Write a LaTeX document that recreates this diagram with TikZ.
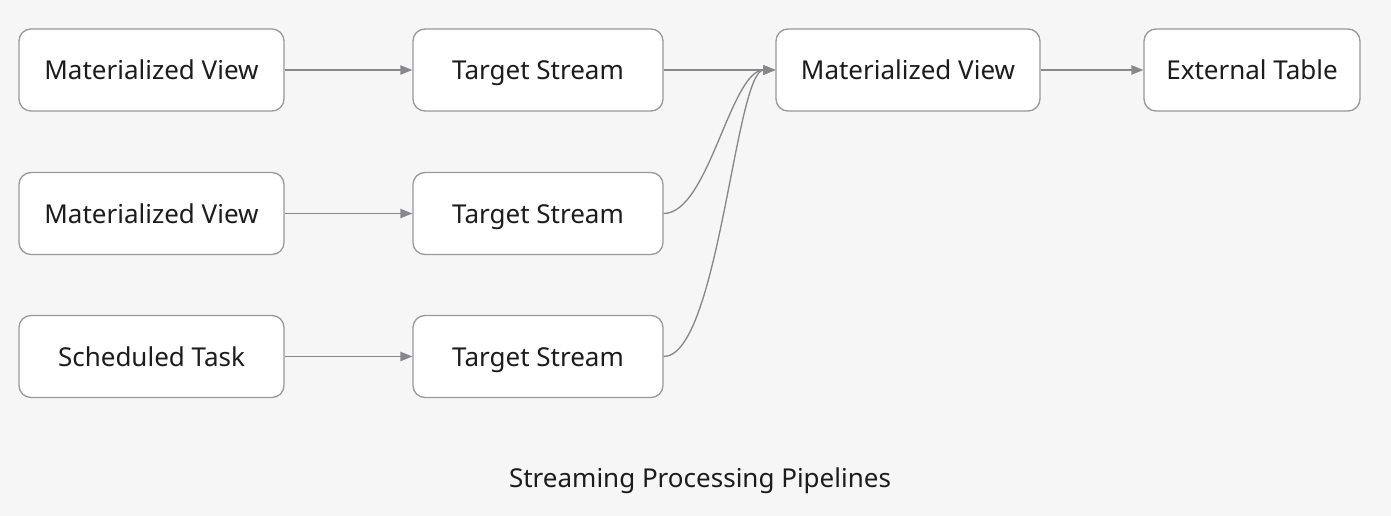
\documentclass[tikz,border=0pt]{standalone}
\usepackage{fontspec}
\setmainfont{Noto Sans}
\usetikzlibrary{arrows.meta}

\definecolor{bgcol}{RGB}{246,246,246}
\definecolor{boxline}{RGB}{153,153,158}
\definecolor{linkcol}{RGB}{136,136,140}
\definecolor{textcol}{RGB}{28,28,30}

\tikzset{every picture/.style={line width=0.75pt}}
\tikzset{
  pipebox/.style={draw=boxline, fill=white, rounded corners=9pt, line width=1pt,
    minimum height=61.5pt, inner sep=0pt, text height=16pt, text depth=1.5pt,
    font=\fontsize{19.5}{23}\selectfont, text=textcol},
  link/.style={draw=linkcol, line width=1pt, -{Triangle[length=9pt,width=7pt]}}
}

\begin{document}
\begin{tikzpicture}[x=0.75pt,y=0.75pt,yscale=-1,xscale=1]
% background and page size
\fill[bgcol] (0,0) rectangle (1391,516);
\useasboundingbox (0,0) rectangle (1391,516);

% Source nodes
\node [pipebox, minimum width=198.75pt] (mv1) at (151.5,70) {Materialized View};
\node [pipebox, minimum width=198.75pt] (mv2) at (151.5,213.5) {Materialized View};
\node [pipebox, minimum width=198.75pt] (task) at (151.5,356.5) {Scheduled Task};

% Target streams
\node [pipebox, minimum width=187.5pt] (ts1) at (538,70) {Target Stream};
\node [pipebox, minimum width=187.5pt] (ts2) at (538,213.5) {Target Stream};
\node [pipebox, minimum width=187.5pt] (ts3) at (538,356.5) {Target Stream};

% Sink side
\node [pipebox, minimum width=198pt] (mv3) at (908,70) {Materialized View};
\node [pipebox, minimum width=162pt] (ext) at (1252,70) {External Table};

% Straight links
\draw [link] (mv1) -- (ts1);
\draw [link] (mv2) -- (ts2);
\draw [link] (task) -- (ts3);
\draw [link] (ts1) -- (mv3);
\draw [link] (mv3) -- (ext);

% Curved links
\draw [link] (ts2.east) .. controls +(45,0) and +(-45,0) .. (mv3.west);
\draw [link] (ts3.east) .. controls +(55,0) and +(-40,0) .. (mv3.west);

% Caption
\node [font=\fontsize{19.5}{23}\selectfont, text=textcol] (caption) at (700,481) {Streaming Processing Pipelines};

\end{tikzpicture}
\end{document}
